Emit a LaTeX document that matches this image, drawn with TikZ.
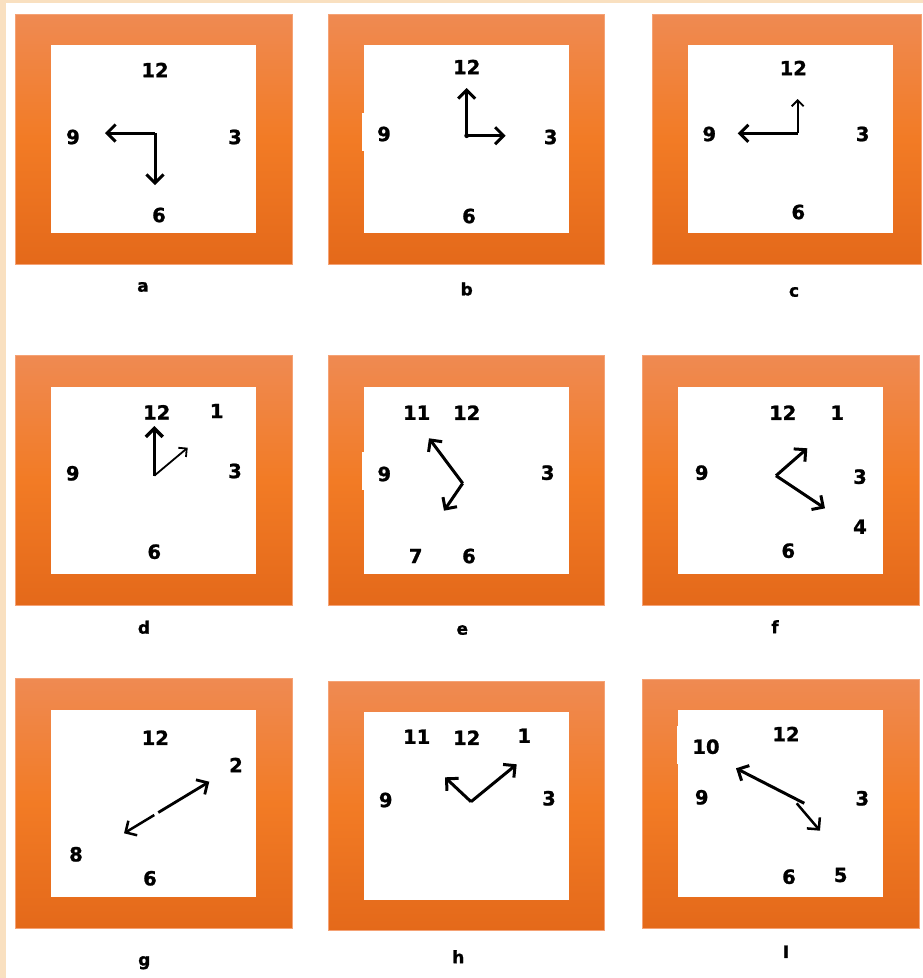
\documentclass[tikz,border=0pt]{standalone}
\usepackage{fontspec}
\setmainfont{DejaVu Sans}
\newfontfamily\numfont[FakeBold=1.2]{DejaVu Sans Bold}
\usetikzlibrary{arrows.meta}
\definecolor{beige}{HTML}{F9E0C0}
\definecolor{ortop}{HTML}{EF8A52}
\definecolor{ormid}{HTML}{F27B25}
\definecolor{orbot}{HTML}{E4691A}
\definecolor{oredge}{HTML}{F5A275}
\tikzset{
 num/.style={font=\numfont\fontsize{19.5}{19.5}\selectfont, inner sep=0pt, text=black},
 lab/.style={font=\numfont\fontsize{17}{17}\selectfont, inner sep=0pt, text=black},
 hand/.style={line width=3pt, -{Straight Barb[length=8.5pt,width=17pt]}, line join=round},
 thinhand/.style={line width=1.8pt, -{Straight Barb[length=6pt,width=12pt]}, line join=round},
 frame/.style={top color=ortop, bottom color=orbot, middle color=ormid, draw=oredge, line width=0.6pt},
}
\newcommand\clockpanel[8]{%
  \path[frame] (#1,#2) rectangle (#3,#4);
  \fill[white] (#5,#6) rectangle (#7,#8);
}
\begin{document}
\begin{tikzpicture}[x=1pt,y=-1pt]
\fill[white] (0,0) rectangle (923,978);
\useasboundingbox (0,0) rectangle (923,978);
\fill[beige] (0,0) rectangle (923,3);
\fill[beige] (0,0) rectangle (6,978);

% frames
\clockpanel{15}{14}{292}{264}{50.7}{45}{256}{232.7}
\clockpanel{328}{14}{604}{264}{364}{45}{569}{233}
\fill[white] (362.3,113) rectangle (364.5,151);
\clockpanel{652.3}{14}{921.5}{264}{688.3}{45}{893.3}{233}
\clockpanel{15}{355}{292}{605}{50.7}{386.7}{256}{574.3}
\clockpanel{328}{355}{604}{605}{364}{387}{569}{574}
\fill[white] (362.3,451.7) rectangle (364.5,490);
\clockpanel{642.3}{355}{919}{605}{678.3}{387}{883.3}{574}
\clockpanel{15}{678.3}{292}{928.3}{50.7}{710}{256}{897.3}
\clockpanel{328}{681.7}{604.3}{930.7}{364}{712.3}{569}{900}
\clockpanel{642.3}{679}{919}{928.3}{678.3}{710}{883.3}{897.3}
\fill[white] (676.7,726) rectangle (678.8,764);

% ---------- a ----------
\node[num] (a12) at (155,70) {12};
\node[num] (a9) at (73,137) {9};
\node[num] (a3) at (235,137) {3};
\node[num] (a6) at (159,215) {6};
\node[lab] (la) at (143,287) {a};
\coordinate (ac) at (155,133);
\coordinate (ah) at (105,133);
\coordinate (am) at (155,185);
\draw[hand] (ac) -- (ah);
\draw[hand] (ac) -- (am);

% ---------- b ----------
\node[num] (b12) at (466.7,67) {12};
\node[num] (b9) at (384,134) {9};
\node[num] (b3) at (550.7,137) {3};
\node[num] (b6) at (469,216) {6};
\node[lab] (lb) at (466.7,289) {b};
\coordinate (bc) at (466.7,135.7);
\coordinate (bu) at (466.7,88);
\coordinate (br) at (505.7,135.7);
\draw[hand] (bc) -- (bu);
\draw[hand] (bc) -- (br);
\fill (bc) circle (2.4);

% ---------- c ----------
\node[num] (c12) at (793.3,68) {12};
\node[num] (c9) at (709.3,134) {9};
\node[num] (c3) at (862.7,134) {3};
\node[num] (c6) at (798.3,212) {6};
\node[lab] (lc) at (794,292) {c};
\coordinate (cc) at (797.7,133.3);
\coordinate (cl) at (737.7,133.3);
\coordinate (cu) at (797.7,99);
\draw[hand] (cc) -- (cl);
\draw[thinhand] (cc) -- (cu);

% ---------- d ----------
\node[num] (d12) at (156.7,412.3) {12};
\node[num] (d1) at (216.7,411) {1};
\node[num] (d9) at (72.7,473.3) {9};
\node[num] (d3) at (235,471) {3};
\node[num] (d6) at (154.3,551.7) {6};
\node[lab] (ld) at (144,627.3) {d};
\coordinate (dc) at (154.3,475.7);
\coordinate (du) at (154.3,426);
\coordinate (dd) at (187.7,447.7);
\draw[hand, line width=3.4pt] (dc) -- (du);
\draw[thinhand] (dc) -- (dd);

% ---------- e ----------
\node[num] (e11) at (416.7,412.7) {11};
\node[num] (e12) at (466.7,412.7) {12};
\node[num] (e9) at (384.3,474) {9};
\node[num] (e3) at (547.7,472.7) {3};
\node[num] (e7) at (415.7,556) {7};
\node[num] (e6) at (469,556) {6};
\node[lab] (le) at (462.3,630) {e};
\coordinate (ec) at (462.7,483.3);
\coordinate (eu) at (429,438.3);
\coordinate (ed) at (444,510.7);
\draw[hand] (ec) -- (eu);
\draw[hand] (ec) -- (ed);

% ---------- f ----------
\node[num] (f12) at (782.7,412.7) {12};
\node[num] (f1) at (837.3,412.7) {1};
\node[num] (f9) at (701.7,472.7) {9};
\node[num] (f3) at (860,476.7) {3};
\node[num] (f4) at (860,526.7) {4};
\node[num] (f6) at (788.3,550.7) {6};
\node[lab] (lf) at (775,626.7) {f};
\coordinate (fc) at (776,475.7);
\coordinate (fu) at (807.3,448.3);
\coordinate (fd) at (825,508.3);
\draw[hand] (fc) -- (fu);
\draw[hand] (fc) -- (fd);

% ---------- g ----------
\node[num] (g12) at (155.3,737.7) {12};
\node[num] (g2) at (236,765) {2};
\node[num] (g8) at (76,854.3) {8};
\node[num] (g6) at (150,878.3) {6};
\node[lab] (lg) at (144.3,962.7) {g};
\coordinate (gA) at (124,833.3);
\coordinate (gB) at (209.3,781.7);
\coordinate (g1) at (154.3,815);
\coordinate (g2c) at (158.3,812.5);
\draw[hand, line width=2.5pt] (g1) -- (gA);
\draw[hand, line width=2.8pt] (g2c) -- (gB);

% ---------- h ----------
\node[num] (h11) at (416.7,736.7) {11};
\node[num] (h12) at (466.7,737.7) {12};
\node[num] (h1) at (524.3,735.7) {1};
\node[num] (h9) at (385.7,800) {9};
\node[num] (h3) at (549,798.3) {3};
\node[lab] (lh) at (458.3,956.7) {h};
\coordinate (hc) at (471,801.7);
\coordinate (hu) at (445,777.3);
\coordinate (hr) at (516.7,764.3);
\draw[hand] (hc) -- (hu);
\draw[hand] (hc) -- (hr);

% ---------- I ----------
\node[num] (i10) at (706,746.7) {10};
\node[num] (i12) at (786,734) {12};
\node[num] (i9) at (701.7,797.3) {9};
\node[num] (i3) at (862.3,798.3) {3};
\node[num] (i6) at (789,876.7) {6};
\node[num] (i5) at (840.7,875) {5};
\node[lab] (li) at (786,951.7) {I};
\coordinate (ic) at (804.3,803.3);
\coordinate (il) at (736,768.3);
\coordinate (is) at (796.7,803.3);
\coordinate (id) at (820,830.7);
\draw[hand] (ic) -- (il);
\draw[hand, line width=2.5pt] (is) -- (id);
\end{tikzpicture}
\end{document}
